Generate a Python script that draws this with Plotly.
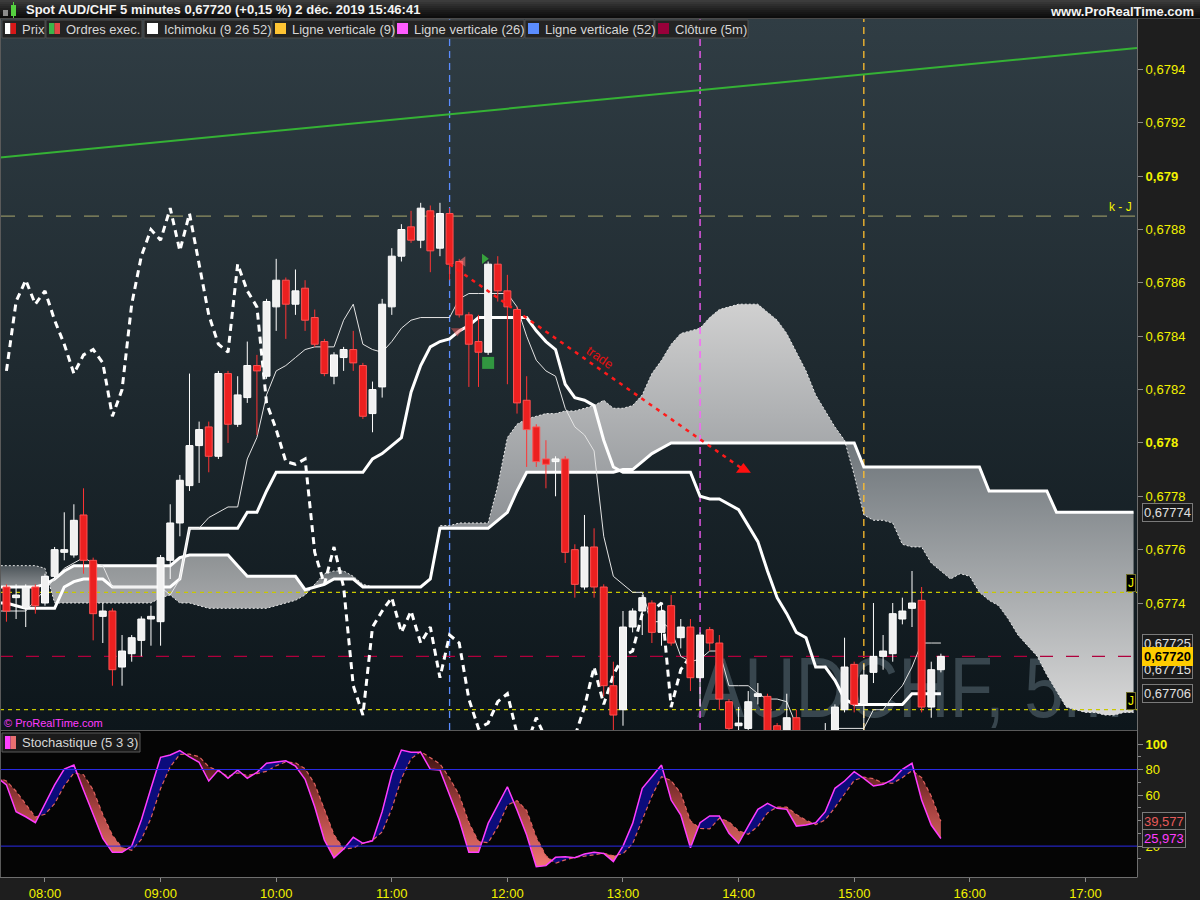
import base64
import numpy as np
import pandas as pd
import plotly.graph_objects as go

DAY = "2019-12-02 "
W, H = 1200, 900
FONT = "Liberation Sans"

# ---------------------------------------------------------------- data
candle_times = pd.date_range(DAY + "07:40", DAY + "15:45", freq="5min")
candle_open = [
    0.67746, 0.67742, 0.67738, 0.67746,
    0.67740, 0.67750, 0.67759, 0.67758, 0.67773, 0.67756, 0.67735, 0.67737, 0.67716, 0.67721, 0.67726, 0.67734,
    0.67733, 0.67756, 0.67770, 0.67784, 0.67799, 0.67806, 0.67795, 0.67826, 0.67807, 0.67817, 0.67829, 0.67825,
    0.67851, 0.67861, 0.67852, 0.67858, 0.67847, 0.67838, 0.67825, 0.67832, 0.67835, 0.67829, 0.67811, 0.67821,
    0.67851, 0.67870, 0.67881, 0.67876, 0.67887, 0.67873, 0.67886, 0.67868, 0.67848, 0.67838, 0.67834, 0.67867,
    0.67857, 0.67850, 0.67816, 0.67806, 0.67794, 0.67793, 0.67794, 0.67760, 0.67746, 0.67761, 0.67746, 0.67709,
    0.67700, 0.67731, 0.67737, 0.67740, 0.67729, 0.67739, 0.67727, 0.67731, 0.67712, 0.67730, 0.67725, 0.67703,
    0.67694, 0.67693, 0.67705, 0.67705, 0.67694, 0.67687, 0.67697, 0.67689, 0.67668, 0.67662, 0.67690, 0.67700,
    0.67717, 0.67702, 0.67714, 0.67720, 0.67721, 0.67734, 0.67738, 0.67741, 0.67701, 0.67715]
candle_high = [
    0.67747, 0.67747, 0.67747, 0.67747,
    0.67751, 0.67761, 0.67774, 0.67777, 0.67783, 0.67757, 0.67740, 0.67738, 0.67728, 0.67728, 0.67735, 0.67739,
    0.67758, 0.67777, 0.67788, 0.67826, 0.67808, 0.67808, 0.67827, 0.67827, 0.67825, 0.67838, 0.67833, 0.67854,
    0.67869, 0.67862, 0.67865, 0.67861, 0.67850, 0.67839, 0.67834, 0.67836, 0.67842, 0.67830, 0.67823, 0.67854,
    0.67873, 0.67882, 0.67887, 0.67890, 0.67889, 0.67890, 0.67888, 0.67869, 0.67849, 0.67848, 0.67868, 0.67870,
    0.67863, 0.67851, 0.67825, 0.67807, 0.67801, 0.67795, 0.67795, 0.67762, 0.67773, 0.67768, 0.67747, 0.67718,
    0.67737, 0.67738, 0.67743, 0.67741, 0.67740, 0.67743, 0.67734, 0.67734, 0.67729, 0.67731, 0.67728, 0.67704,
    0.67701, 0.67707, 0.67710, 0.67706, 0.67695, 0.67706, 0.67700, 0.67690, 0.67675, 0.67695, 0.67702, 0.67727,
    0.67718, 0.67717, 0.67740, 0.67728, 0.67740, 0.67742, 0.67752, 0.67746, 0.67718, 0.67721]
candle_low = [
    0.67733, 0.67734, 0.67731, 0.67736,
    0.67739, 0.67749, 0.67756, 0.67757, 0.67751, 0.67726, 0.67725, 0.67709, 0.67709, 0.67718, 0.67720, 0.67724,
    0.67724, 0.67749, 0.67765, 0.67782, 0.67785, 0.67789, 0.67794, 0.67800, 0.67806, 0.67815, 0.67803, 0.67824,
    0.67842, 0.67839, 0.67848, 0.67842, 0.67836, 0.67825, 0.67822, 0.67827, 0.67827, 0.67809, 0.67804, 0.67817,
    0.67848, 0.67868, 0.67875, 0.67873, 0.67864, 0.67870, 0.67861, 0.67847, 0.67821, 0.67821, 0.67833, 0.67853,
    0.67822, 0.67811, 0.67791, 0.67791, 0.67783, 0.67780, 0.67755, 0.67742, 0.67745, 0.67742, 0.67705, 0.67692,
    0.67694, 0.67729, 0.67728, 0.67725, 0.67724, 0.67724, 0.67723, 0.67707, 0.67701, 0.67722, 0.67700, 0.67678,
    0.67680, 0.67685, 0.67702, 0.67672, 0.67668, 0.67670, 0.67668, 0.67660, 0.67655, 0.67660, 0.67680, 0.67699,
    0.67699, 0.67692, 0.67710, 0.67715, 0.67718, 0.67732, 0.67731, 0.67699, 0.67697, 0.67714]
candle_close = [
    0.67737, 0.67743, 0.67746, 0.67739,
    0.67750, 0.67760, 0.67760, 0.67771, 0.67756, 0.67736, 0.67737, 0.67715, 0.67722, 0.67727, 0.67734, 0.67735,
    0.67757, 0.67770, 0.67786, 0.67799, 0.67805, 0.67795, 0.67826, 0.67807, 0.67818, 0.67829, 0.67827, 0.67853,
    0.67861, 0.67852, 0.67857, 0.67846, 0.67837, 0.67826, 0.67833, 0.67835, 0.67830, 0.67810, 0.67820, 0.67852,
    0.67870, 0.67880, 0.67876, 0.67888, 0.67872, 0.67886, 0.67867, 0.67848, 0.67837, 0.67834, 0.67867, 0.67857,
    0.67851, 0.67815, 0.67805, 0.67793, 0.67792, 0.67794, 0.67759, 0.67747, 0.67761, 0.67746, 0.67709, 0.67698,
    0.67731, 0.67737, 0.67742, 0.67729, 0.67737, 0.67725, 0.67731, 0.67712, 0.67728, 0.67725, 0.67704, 0.67693,
    0.67695, 0.67703, 0.67706, 0.67691, 0.67687, 0.67697, 0.67689, 0.67668, 0.67662, 0.67690, 0.67701, 0.67716,
    0.67702, 0.67713, 0.67720, 0.67722, 0.67736, 0.67737, 0.67740, 0.67701, 0.67715, 0.67720]

ichi_times = pd.date_range(DAY + "07:35", DAY + "17:25", freq="5min")   # senkou spans run 26 bars ahead
tenkan = [
    0.67737, 0.67737, 0.67737, 0.67737, 0.67741,
    0.67745, 0.67749, 0.67753, 0.67755, 0.67757, 0.67755, 0.67754, 0.67746, 0.67746, 0.67746, 0.67746, 0.67746,
    0.67746, 0.67743, 0.67749, 0.67768, 0.67768, 0.67772, 0.67774, 0.67776, 0.67776, 0.67794, 0.67802, 0.67818,
    0.67827, 0.67829, 0.67832, 0.67835, 0.67836, 0.67836, 0.67836, 0.67846, 0.67852, 0.67837, 0.67835, 0.67834,
    0.67838, 0.67843, 0.67846, 0.67847, 0.67847, 0.67847, 0.67847, 0.67854, 0.67856, 0.67856, 0.67856, 0.67856,
    0.67856, 0.67851, 0.67840, 0.67831, 0.67827, 0.67825, 0.67813, 0.67806, 0.67803, 0.67797, 0.67765, 0.67750,
    0.67747, 0.67744, 0.67744, 0.67733, 0.67733, 0.67730, 0.67720, 0.67718, 0.67719, 0.67722, 0.67722, 0.67709,
    0.67709, 0.67709, 0.67706, 0.67704, 0.67704, 0.67703, 0.67694, 0.67688, 0.67688, 0.67688, 0.67693, 0.67693,
    0.67693, 0.67693, 0.67700, 0.67700, 0.67705, 0.67709, 0.67716, 0.67725, 0.67725, 0.67725]
kijun = [
    0.67740, 0.67740, 0.67739, 0.67738, 0.67738,
    0.67738, 0.67738, 0.67746, 0.67748, 0.67749, 0.67749, 0.67749, 0.67746, 0.67746, 0.67746, 0.67746, 0.67746,
    0.67746, 0.67746, 0.67749, 0.67768, 0.67768, 0.67768, 0.67768, 0.67768, 0.67768, 0.67774, 0.67774, 0.67782,
    0.67789, 0.67789, 0.67789, 0.67789, 0.67789, 0.67789, 0.67789, 0.67789, 0.67789, 0.67789, 0.67794, 0.67796,
    0.67799, 0.67802, 0.67819, 0.67829, 0.67836, 0.67838, 0.67839, 0.67842, 0.67844, 0.67847, 0.67847, 0.67847,
    0.67847, 0.67847, 0.67847, 0.67842, 0.67838, 0.67835, 0.67822, 0.67817, 0.67816, 0.67814, 0.67801, 0.67791,
    0.67789, 0.67789, 0.67789, 0.67789, 0.67789, 0.67789, 0.67789, 0.67789, 0.67780, 0.67779, 0.67779, 0.67777,
    0.67775, 0.67769, 0.67763, 0.67752, 0.67742, 0.67736, 0.67729, 0.67727, 0.67716, 0.67716, 0.67711, 0.67704,
    0.67702, 0.67702, 0.67702, 0.67702, 0.67702, 0.67702, 0.67706, 0.67706, 0.67706, 0.67706]
senkou_a = [
    0.67754, 0.67754, 0.67754, 0.67754, 0.67754,
    0.67753, 0.67740, 0.67740, 0.67740, 0.67740, 0.67740, 0.67740, 0.67740, 0.67740, 0.67740, 0.67740, 0.67740,
    0.67742, 0.67743, 0.67740, 0.67740, 0.67739, 0.67738, 0.67738, 0.67738, 0.67738, 0.67738, 0.67738, 0.67738,
    0.67739, 0.67740, 0.67741, 0.67743, 0.67747, 0.67751, 0.67752, 0.67752, 0.67750, 0.67747, 0.67746, 0.67746,
    0.67746, 0.67746, 0.67746, 0.67746, 0.67749, 0.67769, 0.67769, 0.67770, 0.67770, 0.67770, 0.67770, 0.67784,
    0.67802, 0.67807, 0.67809, 0.67810, 0.67811, 0.67811, 0.67812, 0.67812, 0.67813, 0.67814, 0.67816, 0.67813,
    0.67813, 0.67814, 0.67818, 0.67826, 0.67831, 0.67837, 0.67841, 0.67842, 0.67843, 0.67847, 0.67850, 0.67851,
    0.67852, 0.67852, 0.67852, 0.67849, 0.67846, 0.67841, 0.67834, 0.67827, 0.67818, 0.67812, 0.67806, 0.67801,
    0.67788, 0.67773, 0.67771, 0.67771, 0.67770, 0.67762, 0.67761, 0.67761, 0.67755, 0.67752, 0.67749, 0.67751,
    0.67750, 0.67744, 0.67741, 0.67739, 0.67734, 0.67728, 0.67724, 0.67720, 0.67713, 0.67707, 0.67701, 0.67700,
    0.67699, 0.67699, 0.67698, 0.67698, 0.67699, 0.67699]
senkou_b = [
    0.67746, 0.67746, 0.67746, 0.67746, 0.67746,
    0.67747, 0.67749, 0.67752, 0.67754, 0.67754, 0.67754, 0.67754, 0.67754, 0.67754, 0.67754, 0.67754, 0.67754,
    0.67754, 0.67754, 0.67757, 0.67758, 0.67758, 0.67758, 0.67758, 0.67758, 0.67754, 0.67750, 0.67750, 0.67750,
    0.67750, 0.67750, 0.67750, 0.67745, 0.67746, 0.67747, 0.67749, 0.67749, 0.67749, 0.67746, 0.67746, 0.67746,
    0.67746, 0.67746, 0.67746, 0.67746, 0.67749, 0.67768, 0.67768, 0.67768, 0.67768, 0.67768, 0.67768, 0.67771,
    0.67774, 0.67782, 0.67789, 0.67789, 0.67789, 0.67789, 0.67789, 0.67789, 0.67789, 0.67789, 0.67789, 0.67789,
    0.67790, 0.67790, 0.67793, 0.67796, 0.67798, 0.67800, 0.67800, 0.67800, 0.67800, 0.67800, 0.67800, 0.67800,
    0.67800, 0.67800, 0.67800, 0.67800, 0.67800, 0.67800, 0.67800, 0.67800, 0.67800, 0.67800, 0.67800, 0.67800,
    0.67800, 0.67791, 0.67791, 0.67791, 0.67791, 0.67791, 0.67791, 0.67791, 0.67791, 0.67791, 0.67791, 0.67791,
    0.67791, 0.67791, 0.67782, 0.67782, 0.67782, 0.67782, 0.67782, 0.67782, 0.67782, 0.67774, 0.67774, 0.67774,
    0.67774, 0.67774, 0.67774, 0.67774, 0.67774, 0.67774]
chikou_shift = 26    # lagging span = close plotted 26 bars back

stoch_times = pd.date_range(DAY + "07:35", DAY + "15:45", freq="5min")
stoch_k = [
    74, 68, 47, 43, 38.3,
    53.7, 67.9, 80.4, 83.5, 64, 44.4, 26, 15.1, 15.1, 20, 40.4, 65.3,
    89.6, 91.4, 94.8, 90, 85.6, 71, 79.6, 73.1, 79.6, 73.1, 77.8, 84.9,
    86.1, 86.9, 82.8, 72.3, 50.9, 24.8, 10.9, 17.7, 26.9, 22.2, 24.2, 47,
    76.5, 95.3, 93.5, 93.5, 80.2, 79.6, 60, 40.4, 15.1, 15.1, 37.8, 52.2,
    66.5, 48.3, 28.7, 3.9, 4.7, 11.2, 11.7, 10.9, 13.8, 15.1, 14.3, 7.8,
    20, 37.8, 65.3, 74.4, 83.5, 56.1, 44.4, 18.7, 38.3, 43.6, 43.6, 30,
    22.2, 35.7, 48.8, 53.5, 49.6, 48.8, 35.7, 36.5, 38.3, 47, 65.3, 71,
    78.3, 73.1, 67.1, 68.4, 72.3, 80.2, 84.9, 56.1, 36.5, 25.973]
stoch_d_period = 3
stoch_last_d = 39.577
stoch_levels = [20, 80]

price_ticks = [0.6774, 0.6776, 0.6778, 0.6780, 0.6782, 0.6784, 0.6786, 0.6788, 0.6790, 0.6792, 0.6794]
price_tick_text = ["0,6774", "0,6776", "0,6778", "<b>0,678</b>", "0,6782", "0,6784", "0,6786", "0,6788",
                   "<b>0,679</b>", "0,6792", "0,6794"]
stoch_ticks = [20, 60, 80, 100]
stoch_tick_text = ["20", "60", "80", "<b>100</b>"]
time_ticks = pd.date_range(DAY + "08:00", DAY + "17:00", freq="1h")
time_tick_text = [t.strftime("%H:%M") for t in time_ticks]

vline_times = [DAY + "15:05", DAY + "13:40", DAY + "11:30"]          # Ligne verticale (9), (26), (52)
vline_colors = ["#ffbf2e", "#ff5cff", "#5b8dff"]
level_kj = 0.67885
level_j_high = 0.67744
level_j_low = 0.67700
close_level = 0.67720
trend_times = [DAY + "07:36:39", DAY + "17:26:47"]
trend_prices = [0.67907, 0.67948]
trade_times = [DAY + "11:30", DAY + "14:02:30"]
trade_prices = [0.67867, 0.67790]
trade_label_time = DAY + "12:48"
trade_label_price = 0.67832
order_times = [DAY + "11:37", DAY + "11:34", DAY + "11:48", DAY + "11:50"]
order_prices = [0.67868, 0.67842, 0.67869, 0.67830]
order_symbols = ["triangle-left", "triangle-down", "triangle-right", "square"]
order_colors = ["rgba(255,120,120,0.8)", "rgba(240,90,90,0.7)", "#3fd13f", "#39c447"]
order_sizes = [9, 11, 9, 12]
axis_labels = [(0.67774, "0,67774"), (0.67725, "0,67725"), (0.67715, "0,67715"), (0.67706, "0,67706")]
watermark_text = "AUDCHF, 5m"

X_RANGE = [pd.Timestamp(DAY + "07:36:39"), pd.Timestamp(DAY + "17:26:47")]
Y_RANGE = [0.676924, 0.679589]
S_RANGE = [-4.2, 110.2]
BODY_HALF = pd.Timedelta(seconds=108)

# ---------------------------------------------------------------- helpers
def xp(px):
    return px / W


def yp(py):
    return 1 - py / H


def ns_to_str(v):
    return pd.Timestamp(int(round(v))).strftime("%Y-%m-%d %H:%M:%S.%f")


def band_polygons(t_index, a, b):
    x = np.asarray(pd.DatetimeIndex(t_index).asi8, dtype=float)
    a = np.asarray(a, float)
    b = np.asarray(b, float)
    X, A, B = [x[0]], [a[0]], [b[0]]
    for i in range(len(x) - 1):
        d0 = round(a[i] - b[i], 9)
        d1 = round(a[i + 1] - b[i + 1], 9)
        if d0 * d1 < 0:
            f = d0 / (d0 - d1)
            xc = x[i] + f * (x[i + 1] - x[i])
            yc = a[i] + f * (a[i + 1] - a[i])
            X.append(xc); A.append(yc); B.append(yc)
        X.append(x[i + 1]); A.append(a[i + 1]); B.append(b[i + 1])
    X, A, B = np.array(X), np.array(A), np.array(B)
    D = np.round(A - B, 9)
    runs, cur, start = [], 0, 0
    for k in range(len(X) - 1):
        s = np.sign(D[k] + D[k + 1])
        if s != cur:
            if cur != 0:
                runs.append((start, k, cur))
            cur, start = s, k
    if cur != 0:
        runs.append((start, len(X) - 1, cur))
    out = []
    for s0, e0, sg in runs:
        xs = list(X[s0:e0 + 1]) + list(X[s0:e0 + 1][::-1])
        ys = list(A[s0:e0 + 1]) + list(B[s0:e0 + 1][::-1])
        out.append(([ns_to_str(v) for v in xs], ys, sg))
    return out


fig = go.Figure()
M = dict(xaxis="x", yaxis="y", hoverinfo="skip", showlegend=False)
S = dict(xaxis="x2", yaxis="y2", hoverinfo="skip", showlegend=False)

# panel background (vertical gradient) with the symbol watermark, as an image under all traces
PW, PH = 1137, 711
bg_svg = (
    f'<svg xmlns="http://www.w3.org/2000/svg" width="{PW}" height="{PH}" viewBox="0 0 {PW} {PH}" '
    f'preserveAspectRatio="none"><defs><linearGradient id="g" x1="0" y1="0" x2="0" y2="1">'
    f'<stop offset="0" stop-color="#303d44"/><stop offset="1" stop-color="#0d161b"/></linearGradient></defs>'
    f'<rect x="0" y="0" width="{PW}" height="{PH}" fill="url(#g)"/>'
    f'<text x="697" y="698" font-family="Liberation Sans, Arial, sans-serif" font-size="86" fill="#38464e" '
    f'textLength="426" lengthAdjust="spacingAndGlyphs">{watermark_text}</text></svg>')
bg_uri = "data:image/svg+xml;base64," + base64.b64encode(bg_svg.encode("utf-8")).decode("ascii")

# kumo
cloud_shades = [("#4d555a", "#8a8e91"), ("#8e9294", "#a6a8aa"), ("#5e666b", "#999c9e"),
                ("#d0d0d0", "#7d8287"), ("#6f767b", "#d8d8d8")]
polys = band_polygons(ichi_times, senkou_a, senkou_b)
for i, (xs, ys, sg) in enumerate(polys):
    top, bot = cloud_shades[min(i, len(cloud_shades) - 1)]
    fig.add_trace(go.Scatter(x=xs, y=ys, mode="none", fill="toself",
                             fillgradient=dict(type="vertical", colorscale=[[0, bot], [1, top]]), **M))

# vertical lines
for t, c in zip(vline_times, vline_colors):
    fig.add_trace(go.Scatter(x=[t, t], y=Y_RANGE, mode="lines",
                             line=dict(color=c, width=1.3, dash="7px,5px"), **M))

# horizontal levels
for lvl, col, dash in [(level_kj, "#8f8f62", "15px,13px"), (level_j_high, "#c8c800", "4px,4px"),
                       (level_j_low, "#c8c800", "4px,4px"), (close_level, "#b0003c", "13px,13px")]:
    fig.add_trace(go.Scatter(x=X_RANGE, y=[lvl, lvl], mode="lines", line=dict(color=col, width=1.2, dash=dash), **M))

# trend line
fig.add_trace(go.Scatter(x=trend_times, y=trend_prices, mode="lines", line=dict(color="#35b235", width=2), **M))

# ichimoku lines
fig.add_trace(go.Scatter(x=ichi_times, y=senkou_a, mode="lines",
                         line=dict(color="#e8e8e8", width=1, dash="2px,2px"), **M))
fig.add_trace(go.Scatter(x=ichi_times, y=senkou_b, mode="lines", line=dict(color="#ffffff", width=3), **M))
fig.add_trace(go.Scatter(x=ichi_times[:len(kijun)], y=kijun, mode="lines", line=dict(color="#ffffff", width=3), **M))
fig.add_trace(go.Scatter(x=ichi_times[:len(tenkan)], y=tenkan, mode="lines", line=dict(color="#e4e4e4", width=1), **M))
fig.add_trace(go.Scatter(x=candle_times[:-chikou_shift], y=candle_close[chikou_shift:], mode="lines",
                         line=dict(color="#ffffff", width=3, dash="7px,5px"), **M))

# candles (wicks then bodies)
o = np.array(candle_open); h = np.array(candle_high); l = np.array(candle_low); c = np.array(candle_close)
up = c >= o
for mask, wick_col, fill_col, edge_col in [(up, "#ffffff", "#f1f1f1", "#ffffff"),
                                           (~up, "#ff3434", "#ec2020", "#ff5252")]:
    wx, wy, bx, by = [], [], [], []
    for t, oo, hi, lo, cc in zip(candle_times[mask], o[mask], h[mask], l[mask], c[mask]):
        wx += [t, t, None]
        wy += [lo, hi, None]
        b0 = min(oo, cc)
        b1 = max(max(oo, cc), b0 + 0.000004)
        t0, t1 = t - BODY_HALF, t + BODY_HALF
        bx += [t0, t1, t1, t0, t0, None]
        by += [b0, b0, b1, b1, b0, None]
    fig.add_trace(go.Scatter(x=wx, y=wy, mode="lines", line=dict(color=wick_col, width=1), **M))
    fig.add_trace(go.Scatter(x=bx, y=by, mode="lines", fill="toself", fillcolor=fill_col,
                             line=dict(color=edge_col, width=1), **M))

# trade
fig.add_trace(go.Scatter(x=trade_times, y=trade_prices, mode="lines",
                         line=dict(color="#ff1a1a", width=2.5, dash="4px,5px"), **M))
fig.add_trace(go.Scatter(x=[trade_times[1]], y=[trade_prices[1]], mode="markers",
                         marker=dict(symbol="triangle-up", size=13, color="#ff1010"), **M))
fig.add_trace(go.Scatter(x=order_times, y=order_prices, mode="markers",
                         marker=dict(symbol=order_symbols, size=order_sizes, color=order_colors,
                                     line=dict(width=0)), **M))

# ---------------------------------------------------------------- stochastic
k = np.array(stoch_k, float)
d = pd.Series(k).rolling(stoch_d_period, min_periods=1).mean().to_numpy()
spolys = band_polygons(stoch_times, k, d)
bx, by, rx, ry = [], [], [], []
for xs, ys, sg in spolys:
    if sg > 0:
        bx += xs + [None]; by += ys + [None]
    else:
        rx += xs + [None]; ry += ys + [None]
fig.add_trace(go.Scatter(x=bx, y=by, mode="none", fill="toself", fillcolor="#0c0c7c", **S))
fig.add_trace(go.Scatter(x=rx, y=ry, mode="none", fill="toself",
                         fillgradient=dict(type="vertical", start=0, stop=100,
                                           colorscale=[[0, "#f77c76"], [0.5, "#a4403e"], [1, "#2a0b0b"]]), **S))
fig.add_trace(go.Scatter(x=stoch_times, y=d, mode="lines", line=dict(color="#e0625e", width=1.2, dash="4px,3px"), **S))
fig.add_trace(go.Scatter(x=stoch_times, y=k, mode="lines", line=dict(color="#ff3cff", width=1.5), **S))

# ---------------------------------------------------------------- layout
fig.update_layout(
    width=W, height=H, margin=dict(l=0, r=0, t=0, b=0),
    paper_bgcolor="#1e1e1e", plot_bgcolor="#050505", showlegend=False, hovermode=False,
    xaxis=dict(domain=[0, xp(1137)], range=X_RANGE, type="date", anchor="y", showticklabels=False,
               showgrid=False, zeroline=False, showline=False, ticks=""),
    yaxis=dict(domain=[yp(730), yp(19)], range=Y_RANGE, side="right", anchor="x", showgrid=False,
               zeroline=False, showline=False, tickvals=price_ticks, ticktext=price_tick_text,
               ticks="outside", ticklen=5, tickcolor="#8a8a8a",
               tickfont=dict(family=FONT, size=13, color="#f2f200")),
    xaxis2=dict(domain=[0, xp(1137)], range=X_RANGE, type="date", anchor="y2", matches="x",
                tickvals=time_ticks, ticktext=time_tick_text, ticks="outside", ticklen=4, tickcolor="#8a8a8a",
                tickfont=dict(family=FONT, size=13, color="#f2f200"), showgrid=False, zeroline=False,
                showline=False),
    yaxis2=dict(domain=[yp(877), yp(731)], range=S_RANGE, side="right", anchor="x2", showgrid=False,
                zeroline=False, showline=False, tickvals=stoch_ticks, ticktext=stoch_tick_text,
                ticks="outside", ticklen=5, tickcolor="#8a8a8a",
                tickfont=dict(family=FONT, size=13, color="#f2f200"),
                minor=dict(tickvals=[10, 30, 40, 50, 70, 90], ticks="outside", ticklen=3, tickcolor="#8a8a8a")),
    images=[dict(source=bg_uri, xref="x domain", yref="y domain", x=0, y=1, sizex=1, sizey=1,
                 xanchor="left", yanchor="top", sizing="stretch", layer="below")],
)

shapes = []
for lv in stoch_levels:
    shapes.append(dict(type="line", xref="paper", yref="y2", x0=0, x1=xp(1137), y0=lv, y1=lv,
                       line=dict(color="#2b2bea", width=1), layer="above"))
for x0, y0, x1, y1, col in [(1137.5, 19, 1137.5, 877, "#6e6e6e"), (0.5, 19, 0.5, 877, "#5a5a5a"),
                            (0, 730.5, 1137, 730.5, "#5a5a5a"), (0, 877.5, 1137.5, 877.5, "#6e6e6e")]:
    shapes.append(dict(type="line", xref="paper", yref="paper", x0=xp(x0), y0=yp(y0), x1=xp(x1), y1=yp(y1),
                       line=dict(color=col, width=1), layer="above"))
strip_cols = ["#3c3c3c", "#353535", "#2e2e2e", "#282828", "#222222", "#1c1c1c", "#171717", "#121212", "#0d0d0d"]
for i, col in enumerate(strip_cols):
    shapes.append(dict(type="rect", xref="paper", yref="paper", x0=0, x1=1, y0=yp(2 * i + 2), y1=yp(2 * i),
                       fillcolor=col, line=dict(width=0), layer="above"))
shapes.append(dict(type="rect", xref="paper", yref="paper", x0=0, x1=1, y0=yp(19), y1=yp(18),
                   fillcolor="#4a4a4a", line=dict(width=0), layer="above"))
shapes.append(dict(type="rect", xref="paper", yref="paper", x0=xp(1138), x1=1, y0=yp(39), y1=yp(19),
                   fillcolor="#1e1e1e", line=dict(width=0), layer="above"))
shapes.append(dict(type="rect", xref="paper", yref="paper", x0=xp(3), x1=xp(8), y0=yp(16), y1=yp(10),
                   fillcolor="#8c8c8c", line=dict(width=0), layer="above"))
shapes.append(dict(type="rect", xref="paper", yref="paper", x0=xp(11), x1=xp(16), y0=yp(16), y1=yp(5),
                   fillcolor="#55d040", line=dict(width=0), layer="above"))
shapes.append(dict(type="line", xref="paper", yref="paper", x0=xp(13.5), x1=xp(13.5), y0=yp(18), y1=yp(2),
                   line=dict(color="#55d040", width=1), layer="above"))

annotations = []
legend_items = [
    (2, 45, ["#ffffff", "#d81818"], "Prix"),
    (46, 142, ["#3ab54a", "#e04545"], "Ordres exec."),
    (144, 271, ["#ffffff"], "Ichimoku (9 26 52)"),
    (272, 393, ["#ffc433"], "Ligne verticale (9)"),
    (394, 524, ["#ff5cff"], "Ligne verticale (26)"),
    (525, 654, ["#5b8dff"], "Ligne verticale (52)"),
    (655, 748, ["#99003a"], "Clôture (5m)"),
]
for x0, x1, sw, label in legend_items:
    shapes.append(dict(type="rect", xref="paper", yref="paper", x0=xp(x0), x1=xp(x1), y0=yp(38), y1=yp(20),
                       fillcolor="#232323", line=dict(color="#4e4e4e", width=1), layer="above"))
    n = len(sw)
    for j, col in enumerate(sw):
        shapes.append(dict(type="rect", xref="paper", yref="paper", x0=xp(x0 + 3 + 11 * j / n),
                           x1=xp(x0 + 3 + 11 * (j + 1) / n), y0=yp(34), y1=yp(23),
                           fillcolor=col, line=dict(width=0), layer="above"))
    annotations.append(dict(xref="paper", yref="paper", x=xp(x0 + 18), y=yp(29), xanchor="left", yanchor="middle",
                            text=label, showarrow=False, font=dict(family=FONT, size=13, color="#d6d6d6")))

shapes.append(dict(type="rect", xref="paper", yref="paper", x0=xp(2), x1=xp(140), y0=yp(752), y1=yp(733),
                   fillcolor="#1b1b1b", line=dict(color="#5a5a5a", width=1), layer="above"))
shapes.append(dict(type="rect", xref="paper", yref="paper", x0=xp(5), x1=xp(10.5), y0=yp(749), y1=yp(736),
                   fillcolor="#ff40ff", line=dict(width=0), layer="above"))
shapes.append(dict(type="rect", xref="paper", yref="paper", x0=xp(10.5), x1=xp(16), y0=yp(749), y1=yp(736),
                   fillcolor="#e87070", line=dict(width=0), layer="above"))
annotations.append(dict(xref="paper", yref="paper", x=xp(20), y=yp(742.5), xanchor="left", yanchor="middle",
                        text="Stochastique (5 3 3)", showarrow=False,
                        font=dict(family=FONT, size=13, color="#d6d6d6")))

annotations.append(dict(xref="paper", yref="paper", x=xp(24), y=yp(10), xanchor="left", yanchor="middle",
                        text="<b>Spot AUD/CHF 5 minutes 0,67720 (+0,15 %) 2 déc. 2019 15:46:41</b>",
                        showarrow=False, font=dict(family=FONT, size=13, color="#f4f4f4")))
annotations.append(dict(xref="paper", yref="paper", x=xp(1196), y=yp(11), xanchor="right", yanchor="middle",
                        text="<b>www.ProRealTime.com</b>", showarrow=False,
                        font=dict(family=FONT, size=13, color="#f4f4f4")))
annotations.append(dict(xref="paper", yref="paper", x=xp(2), y=yp(723), xanchor="left", yanchor="middle",
                        text="© ProRealTime.com", showarrow=False, font=dict(family=FONT, size=11, color="#ff3cff")))

for val, txt in axis_labels:
    annotations.append(dict(xref="paper", yref="y", x=xp(1142), y=val, xanchor="left", yanchor="middle",
                            text=txt, showarrow=False, font=dict(family=FONT, size=13, color="#e0e0e0"),
                            bgcolor="#1a1a1a", bordercolor="#7a7a7a", borderwidth=1, borderpad=1))
annotations.append(dict(xref="paper", yref="y", x=xp(1142), y=close_level, xanchor="left", yanchor="middle",
                        text="<b>0,67720</b>", showarrow=False, font=dict(family=FONT, size=13, color="#000000"),
                        bgcolor="#ffcc00", bordercolor="#ffcc00", borderwidth=1, borderpad=1))
annotations.append(dict(xref="paper", yref="y2", x=xp(1142), y=stoch_last_d, xanchor="left", yanchor="middle",
                        text=f"{stoch_last_d:.3f}".replace(".", ","), showarrow=False,
                        font=dict(family=FONT, size=13, color="#e65a5a"),
                        bgcolor="#1a1a1a", bordercolor="#7a7a7a", borderwidth=1, borderpad=1))
annotations.append(dict(xref="paper", yref="y2", x=xp(1142), y=stoch_k[-1], xanchor="left", yanchor="middle",
                        text=f"{stoch_k[-1]:.3f}".replace(".", ","), showarrow=False,
                        font=dict(family=FONT, size=13, color="#ff3cff"),
                        bgcolor="#1a1a1a", bordercolor="#7a7a7a", borderwidth=1, borderpad=1))
for lvl in [level_j_high, level_j_low]:
    annotations.append(dict(xref="paper", yref="y", x=xp(1136), y=lvl, xanchor="right", yanchor="bottom",
                            text="J", showarrow=False, font=dict(family=FONT, size=12, color="#f2f200"),
                            bgcolor="#000000", bordercolor="#6e6e2a", borderwidth=1, borderpad=1))
annotations.append(dict(xref="paper", yref="y", x=xp(1134), y=level_kj, xanchor="right", yanchor="bottom",
                        text="k - J", showarrow=False, font=dict(family=FONT, size=12, color="#f2f200")))
annotations.append(dict(xref="x", yref="y", x=pd.Timestamp(trade_label_time), y=trade_label_price, text="trade",
                        textangle=35, showarrow=False, font=dict(family=FONT, size=13, color="#e01010")))

fig.update_layout(shapes=shapes, annotations=annotations)
fig.write_html("out.html", config={"displayModeBar": False},
               post_script="document.body.style.margin='0px';document.body.style.overflow='hidden';")
